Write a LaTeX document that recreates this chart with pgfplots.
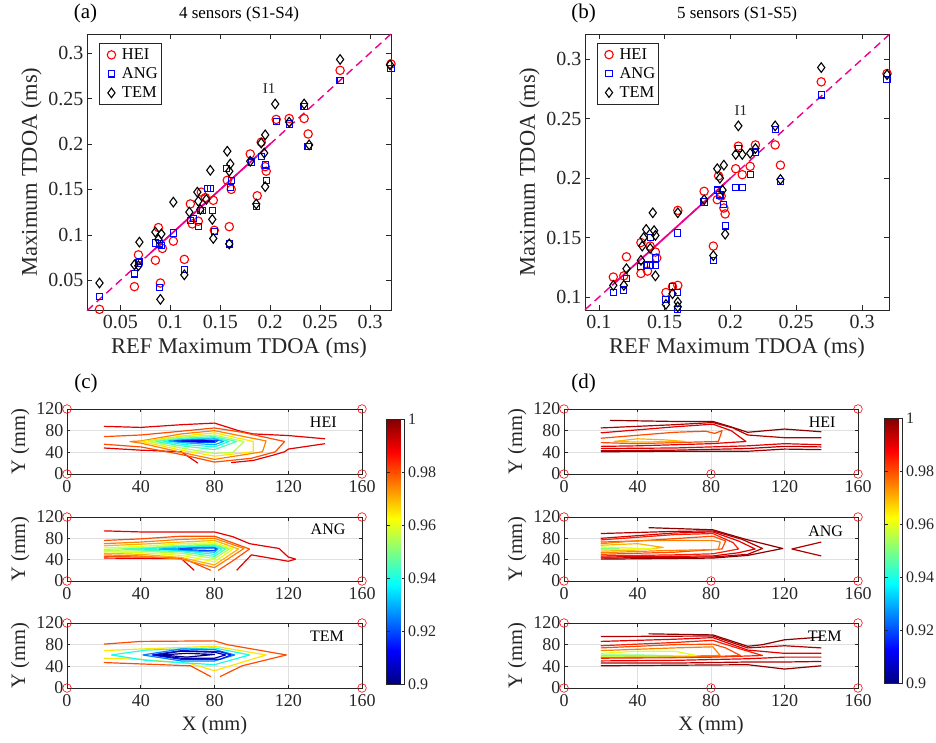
\documentclass[border=0pt]{standalone}
\usepackage{fontspec}
\setmainfont{Liberation Serif}
\usepackage{pgfplots}
\pgfplotsset{compat=1.18}
\newcommand\fs[1]{\fontsize{#1}{#1}\selectfont}
\definecolor{j100}{rgb}{0.55,0,0}
\definecolor{j995}{rgb}{0.7,0,0}
\definecolor{j99}{rgb}{0.9,0,0}
\definecolor{j985}{rgb}{1,0.12,0}
\definecolor{j98}{rgb}{1,0.3,0}
\definecolor{j975}{rgb}{1,0.5,0}
\definecolor{j97}{rgb}{1,0.7,0}
\definecolor{j965}{rgb}{1,0.9,0}
\definecolor{j96}{rgb}{0.9,1,0.1}
\definecolor{j955}{rgb}{0.7,1,0.3}
\definecolor{j95}{rgb}{0.5,1,0.5}
\definecolor{j945}{rgb}{0.3,1,0.7}
\definecolor{j94}{rgb}{0.1,1,0.9}
\definecolor{j93}{rgb}{0,0.7,1}
\definecolor{j925}{rgb}{0,0.5,1}
\definecolor{j92}{rgb}{0,0.3,1}
\definecolor{j915}{rgb}{0,0.1,1}
\definecolor{j91}{rgb}{0,0,0.9}
\definecolor{j905}{rgb}{0,0,0.7}
\definecolor{j90}{rgb}{0,0,0.5}
\definecolor{axc}{rgb}{0.15,0.15,0.15}
\pgfplotsset{
  scat/.style={scale only axis, width=304pt, height=276pt, anchor=south west,
    axis line style={draw=axc, line width=0.6pt}, tick style={draw=axc, line width=0.6pt},
    major tick length=5pt, tick align=inside,
    ticklabel style={font=\fs{20}, text=axc},
    xticklabel style={yshift=-2pt},
    label style={font=\fs{22.5}, text=axc},
    xlabel style={yshift=-2pt},
    title style={font=\fs{17}, yshift=2pt},
    /pgf/number format/assume math mode=true, /pgf/number format/fixed, /pgf/number format/precision=2,
    clip=false,
    legend style={font=\fs{16.5}, draw=axc, line width=0.6pt, inner sep=2pt, row sep=0pt,
      cells={anchor=west}, nodes={inner sep=1.5pt}},
    legend image code/.code={\path[draw=none,fill=none] (-10pt,-9.5pt) rectangle (9pt,9.5pt); \draw[##1] plot coordinates {(0pt,0pt)};},
  },
  hei/.style={only marks, mark=o, red, mark size=4.2pt, line width=1.1pt},
  ang/.style={only marks, mark=square, blue, mark size=3.1pt, line width=1.1pt},
  tem/.style={only marks, mark=diamond, black, mark size=4.8pt, line width=1.1pt},
  cont/.style={scale only axis, width=295pt, height=65pt, anchor=south west,
    xmin=0, xmax=160, ymin=0, ymax=120, xtick={0,40,80,120,160}, ytick={0,40,80,120},
    grid=major, grid style={black!12, line width=0.5pt},
    axis line style={draw=axc, line width=0.6pt}, tick style={draw=axc, line width=0.6pt},
    major tick length=3.5pt, tick align=inside,
    ticklabel style={font=\fs{18}, text=axc},
    xticklabel style={yshift=-3pt},
    label style={font=\fs{20.5}, text=axc},
    xlabel style={yshift=-3pt},
    ylabel={Y (mm)},
    /pgf/number format/assume math mode=true,
    clip=false},
  cl/.style={line width=1.2pt, line join=round},
  sens/.style={only marks, mark=o, red, mark size=4.3pt, line width=0.6pt},
  cbar/.style={colormap/jet, point meta min=0.9, point meta max=1, colorbar,
    colorbar style={at={(parent axis.north east)}, anchor=north west, xshift=#1,
      scale only axis, width=18pt, height=265pt,
      ytick={0.9,0.92,0.94,0.96,0.98,1},
      yticklabel style={font=\fs{16}, text=axc, /pgf/number format/fixed, /pgf/number format/precision=2, /pgf/number format/assume math mode=true},
      axis line style={draw=axc, line width=0.6pt}, tick style={draw=axc, line width=0.6pt}, major tick length=3pt}},
}
\begin{document}
\begin{tikzpicture}[x=1pt,y=1pt]
\useasboundingbox (0,0) rectangle (936,742);
% ---------------- (a)
\begin{axis}[scat, at={(87pt,432pt)}, xmin=0.0165, xmax=0.321, ymin=0.0173, ymax=0.321,
  xtick={0.05,0.1,0.15,0.2,0.25,0.3}, ytick={0.05,0.1,0.15,0.2,0.25,0.3},
  xlabel={REF Maximum TDOA (ms)}, ylabel={Maximum TDOA (ms)}, title={4 sensors (S1-S4)},
  legend style={at={(0.04,0.967)}, anchor=north west}]
\addplot[hei] coordinates {(0.029,0.018)(0.064,0.043)(0.068,0.078)(0.085,0.072)(0.088,0.108)(0.090,0.047)(0.092,0.085)(0.103,0.093)(0.114,0.073)(0.120,0.134)(0.122,0.112)(0.128,0.115)(0.131,0.147)(0.135,0.141)(0.143,0.138)(0.144,0.105)(0.157,0.160)(0.159,0.109)(0.161,0.150)(0.180,0.189)(0.187,0.143)(0.191,0.202)(0.195,0.175)(0.196,0.170)(0.206,0.227)(0.219,0.228)(0.234,0.228)(0.238,0.211)(0.270,0.281)(0.321,0.288)};
\addlegendentry{HEI}
\addplot[ang] coordinates {(0.029,0.032)(0.064,0.057)(0.068,0.069)(0.069,0.071)(0.085,0.091)(0.089,0.042)(0.089,0.090)(0.091,0.088)(0.103,0.102)(0.114,0.062)(0.120,0.116)(0.123,0.118)(0.128,0.109)(0.130,0.127)(0.132,0.127)(0.137,0.151)(0.140,0.151)(0.142,0.127)(0.144,0.104)(0.156,0.173)(0.160,0.152)(0.161,0.160)(0.159,0.090)(0.181,0.180)(0.186,0.131)(0.191,0.186)(0.195,0.177)(0.196,0.160)(0.206,0.225)(0.219,0.222)(0.234,0.241)(0.238,0.197)(0.270,0.270)(0.321,0.283)};
\addlegendentry{ANG}
\addplot[tem] coordinates {(0.029,0.047)(0.090,0.029)(0.064,0.067)(0.068,0.066)(0.069,0.092)(0.085,0.103)(0.088,0.095)(0.091,0.101)(0.103,0.136)(0.114,0.056)(0.119,0.125)(0.127,0.147)(0.128,0.137)(0.130,0.128)(0.136,0.139)(0.140,0.171)(0.142,0.117)(0.143,0.096)(0.157,0.192)(0.159,0.170)(0.160,0.178)(0.159,0.090)(0.180,0.181)(0.186,0.134)(0.191,0.201)(0.194,0.190)(0.195,0.210)(0.195,0.153)(0.205,0.244)(0.219,0.224)(0.234,0.244)(0.239,0.199)(0.270,0.293)(0.320,0.287)};
\addlegendentry{TEM}
\addplot[magenta, line width=1.4pt, dash pattern=on 8pt off 5pt, forget plot] coordinates {(0.0165,0.0165)(0.321,0.321)};
\addplot[magenta, line width=1.7pt, forget plot] coordinates {(0.08,0.08)(0.2,0.2)};
\node[font=\fs{15}, text=axc] at (axis cs:0.199,0.261) {I1};
\end{axis}
% ---------------- (b)
\begin{axis}[scat, at={(585pt,432pt)}, xmin=0.0895, xmax=0.3205, ymin=0.0893, ymax=0.3212,
  xtick={0.1,0.15,0.2,0.25,0.3}, ytick={0.1,0.15,0.2,0.25,0.3},
  xlabel={REF Maximum TDOA (ms)}, ylabel={Maximum TDOA (ms)}, title={5 sensors (S1-S5)},
  legend style={at={(0.0385,0.968)}, anchor=north west}]
\addplot[hei] coordinates {(0.111,0.117)(0.119,0.118)(0.121,0.134)(0.132,0.146)(0.132,0.120)(0.137,0.122)(0.139,0.143)(0.143,0.138)(0.144,0.133)(0.151,0.104)(0.156,0.109)(0.160,0.110)(0.160,0.173)(0.180,0.189)(0.187,0.143)(0.190,0.182)(0.191,0.202)(0.193,0.185)(0.195,0.175)(0.196,0.170)(0.204,0.208)(0.206,0.227)(0.209,0.203)(0.215,0.210)(0.219,0.228)(0.234,0.228)(0.238,0.211)(0.269,0.281)(0.319,0.288)};
\addlegendentry{HEI}
\addplot[ang] coordinates {(0.111,0.104)(0.119,0.106)(0.121,0.116)(0.132,0.126)(0.136,0.127)(0.139,0.150)(0.139,0.127)(0.143,0.133)(0.143,0.127)(0.151,0.098)(0.156,0.109)(0.160,0.104)(0.160,0.090)(0.160,0.154)(0.180,0.180)(0.187,0.131)(0.190,0.190)(0.192,0.186)(0.195,0.178)(0.196,0.160)(0.204,0.192)(0.209,0.192)(0.206,0.225)(0.215,0.203)(0.219,0.222)(0.234,0.241)(0.238,0.197)(0.269,0.270)(0.319,0.283)};
\addlegendentry{ANG}
\addplot[tem] coordinates {(0.111,0.110)(0.119,0.110)(0.121,0.124)(0.132,0.131)(0.133,0.143)(0.134,0.150)(0.136,0.157)(0.139,0.141)(0.141,0.171)(0.142,0.156)(0.143,0.152)(0.143,0.118)(0.151,0.094)(0.156,0.103)(0.160,0.096)(0.160,0.092)(0.160,0.171)(0.180,0.182)(0.187,0.135)(0.190,0.208)(0.192,0.200)(0.194,0.190)(0.195,0.211)(0.196,0.153)(0.204,0.220)(0.206,0.244)(0.209,0.220)(0.215,0.221)(0.219,0.225)(0.234,0.244)(0.238,0.199)(0.269,0.293)(0.319,0.287)};
\addlegendentry{TEM}
\addplot[magenta, line width=1.4pt, dash pattern=on 8pt off 5pt, forget plot] coordinates {(0.0895,0.0895)(0.3205,0.3205)};
\addplot[magenta, line width=1.7pt, forget plot] coordinates {(0.11,0.11)(0.2,0.2)};
\node[font=\fs{15}, text=axc] at (axis cs:0.208,0.257) {I1};
\end{axis}
% ---------------- (c) HEI
\begin{axis}[cont, at={(67pt,268pt)}, cbar=16pt, colorbar style={yshift=-10pt}]
\addplot[cl,j99] coordinates {(20,88)(40,86)(62,91)(80,94)(94,79)(101,74)(120,71)(140,65)};
\addplot[cl,j99] coordinates {(140,56)(120,46)(118,41)(112,35)(101,25)(89,21)};
\addplot[cl,j99] coordinates {(20,48)(40,44)(62,41)(71,20)};
\addplot[cl,j98] coordinates {(20,69)(40,72)(62,79)(80,85)(95,77)(118,60)(113,41)(100,29)(80,22)(62,36)(40,50)(20,55)};
\addplot[cl,j975] coordinates {(34,60)(40,61)(62,74)(80,80)(108,61)(106,41)(80,27)(62,40)(40,57)(34,60)};
\addplot[cl,j965] coordinates {(40,60)(62,70)(80,76)(101,60)(101,41)(80,33)(62,44)(40,60)};
\addplot[cl,j955] coordinates {(44,60)(62,68)(80,72)(96,60)(90,40)(80,38)(62,48)(44,60)};
\addplot[cl,j945] coordinates {(48,60)(62,66)(80,69)(92,60)(80,45)(62,52)(48,60)};
\addplot[cl,j94] coordinates {(52,60)(62,64)(80,67)(88,60)(80,50)(62,55)(52,60)};
\addplot[cl,j93] coordinates {(55,61)(62,63)(80,65)(85,60)(80,54)(62,58)(55,61)};
\addplot[cl,j92] coordinates {(58,61)(70,63)(82,62)(80,58)(68,59)(58,61)};
\addplot[cl,j91] coordinates {(62,61)(75,61.5)(80,60.5)(70,60)(62,61)};
\addplot[sens] coordinates {(0,0)(0,120)(160,0)(160,120)};
\node[font=\fs{16}, text=black] at (axis cs:139,96) {HEI};
\end{axis}
% ---------------- (c) ANG
\begin{axis}[cont, at={(67pt,161pt)}, height=64pt]
\addplot[cl,j99] coordinates {(20,94)(40,92)(80,92)(90,83)(99,70)(115,61)(120,45)(124,41)(120,37)(100,49)(92,20)};
\addplot[cl,j99] coordinates {(20,43)(62,42)(69,20)};
\addplot[cl,j98] coordinates {(20,76)(40,79)(62,84)(80,84)(99,60)(90,38)(82,20)};
\addplot[cl,j98] coordinates {(78,20)(70,32)(62,44)(40,45)(20,46)};
\addplot[cl,j975] coordinates {(20,70)(40,73)(62,78)(80,80)(96,61)(80,25)(62,41)(40,47)(20,49)};
\addplot[cl,j97] coordinates {(20,66)(40,69)(62,73)(80,76)(93,60)(80,30)(62,44)(40,50)(20,52)};
\addplot[cl,j96] coordinates {(20,62)(40,65)(62,70)(80,72)(90,60)(80,36)(62,48)(40,53)(20,55)};
\addplot[cl,j955] coordinates {(20,59)(40,62)(62,67)(80,69)(88,60)(80,42)(62,52)(40,56)(20,57)};
\addplot[cl,j945] coordinates {(30,60)(40,61)(62,65)(80,67)(86,60)(80,46)(62,55)(40,58)(30,60)};
\addplot[cl,j94] coordinates {(40,60)(62,64)(80,65)(84,60)(80,50)(62,57)(40,60)};
\addplot[cl,j93] coordinates {(50,60)(62,62)(80,63)(82,60)(80,54)(62,58)(50,60)};
\addplot[cl,j92] coordinates {(60,60)(70,62)(80,62)(81,60)(80,57)(70,58)(60,60)};
\addplot[sens] coordinates {(0,0)(0,120)(160,0)(160,120)};
\node[font=\fs{16}, text=black] at (axis cs:141.6,97) {ANG};
\end{axis}
% ---------------- (c) TEM
\begin{axis}[cont, at={(67pt,54pt)}, xlabel={X (mm)}]
\addplot[cl,j98] coordinates {(20,81)(40,86)(80,87)(87,80)(119,61)(95,41)(83,21)};
\addplot[cl,j98] coordinates {(20,47)(67,41)(78,21)};
\addplot[cl,j965] coordinates {(20,69)(40,72)(80,77)(108,61)(80,32)(67,45)(40,53)(20,55)};
\addplot[cl,j94] coordinates {(24,61)(43,70)(80,74)(99,61)(80,43)(43,51)(24,61)};
\addplot[cl,j925] coordinates {(41,61)(62,72)(80,71)(91,61)(80,50)(62,50)(41,61)};
\addplot[cl,j915] coordinates {(46,61)(62,69)(83,67)(89,61)(83,53)(62,53)(46,61)};
\addplot[cl,j905] coordinates {(48,61)(62,68)(80,66)(86,61)(80,55)(62,55)(48,61)};
\addplot[cl,j90] coordinates {(51,61)(65,64)(80,62)(65,57)(51,61)};
\addplot[sens] coordinates {(0,0)(0,120)(160,0)(160,120)};
\node[font=\fs{16}, text=black] at (axis cs:141,96) {TEM};
\end{axis}
% ---------------- (d) HEI
\begin{axis}[cont, at={(564pt,268pt)}, width=294pt, cbar=18pt, colorbar style={yshift=-9pt}]
\addplot[cl,j100] coordinates {(25,99)(60,97)(81,97)(90,88)(100,77)(120,83)(140,78)};
\addplot[cl,j995] coordinates {(20,85)(60,91)(81,95)(92,85)(100,72)(120,67)(140,67)};
\addplot[cl,j99] coordinates {(20,76)(60,87)(81,92)(91,80)(99,60)(80,56)(60,54)(40,52)(20,51)};
\addplot[cl,j98] coordinates {(20,66)(60,77)(77,79)(82,75)(86,80)(84,60)(60,58)(40,56)(20,58)};
\addplot[cl,j97] coordinates {(27,60)(40,65)(55,63)(66,60)(40,59)(27,60)};
\addplot[cl,j100] coordinates {(20,41)(60,42)(100,42)(120,46)(140,45)};
\addplot[cl,j995] coordinates {(20,43)(60,44)(100,47)(120,51)(140,50)};
\addplot[cl,j99] coordinates {(20,47)(60,48)(100,52)(120,56)(140,54)};
\addplot[sens] coordinates {(0,0)(0,120)(80,0)(160,0)(160,120)};
\node[font=\fs{16}, text=black] at (axis cs:140.5,96) {HEI};
\end{axis}
% ---------------- (d) ANG
\begin{axis}[cont, at={(564pt,161pt)}, width=294pt, height=64pt]
\addplot[cl,j100] coordinates {(46,100)(81,96)(99,78)(119,61)(100,48)(81,43)(20,41)};
\addplot[cl,j995] coordinates {(20,89)(60,93)(81,94)(97,78)(108,61)(100,50)(81,45)(20,43)};
\addplot[cl,j99] coordinates {(20,80)(60,90)(81,92)(95,75)(104,60)(95,53)(81,47)(20,45)};
\addplot[cl,j985] coordinates {(20,77)(60,87)(81,89)(92,72)(95,60)(81,51)(60,49)(20,47)};
\addplot[cl,j98] coordinates {(20,73)(40,75)(81,84)(88,75)(86,60)(60,54)(20,50)};
\addplot[cl,j975] coordinates {(20,70)(41,76)(81,76)(85,73)(84,59)(54,57)(20,53)};
\addplot[cl,j97] coordinates {(20,67)(40,70)(54,63)(40,58)(20,56)};
\addplot[cl,j96] coordinates {(20,64)(35,62)(50,60)(35,59)(20,59)};
\addplot[cl,j95] coordinates {(20,61.5)(30,60.5)(20,59.8)};
\addplot[cl,j995] coordinates {(140,73)(124,60)(140,47)};
\addplot[sens] coordinates {(0,0)(0,120)(80,0)(160,0)(160,120)};
\node[font=\fs{16}, text=black] at (axis cs:142.4,93) {ANG};
\end{axis}
% ---------------- (d) TEM
\begin{axis}[cont, at={(564pt,54pt)}, width=294pt, xlabel={X (mm)}]
\addplot[cl,j100] coordinates {(46,100)(81,98)(100,77)(108,80)(120,89)(140,94)};
\addplot[cl,j995] coordinates {(20,95)(81,96)(100,74)(120,78)(140,74)};
\addplot[cl,j99] coordinates {(20,86)(60,90)(81,93)(100,70)(120,64)(140,64)};
\addplot[cl,j100] coordinates {(20,41)(60,42)(100,43)(120,35)(140,41)};
\addplot[cl,j995] coordinates {(20,46)(60,46)(100,48)(120,48)(140,49)};
\addplot[cl,j99] coordinates {(20,50)(60,51)(100,54)(120,57)(140,57)};
\addplot[cl,j985] coordinates {(20,78)(60,84)(81,88)(96,72)(108,60)(81,57)(60,56)(20,55)};
\addplot[cl,j98] coordinates {(20,74)(60,80)(81,81)(88,74)(96,60)(81,58)(60,57)(20,56.5)};
\addplot[cl,j975] coordinates {(20,69)(60,74)(81,76)(85,60)(60,58.5)(20,57.5)};
\addplot[cl,j96] coordinates {(20,64)(40,68)(60,68)(72,60)(60,59.5)(20,58.5)};
\addplot[cl,j95] coordinates {(20,61)(40,61)(59,59.7)(20,59.5)};
\addplot[sens] coordinates {(0,0)(0,120)(80,0)(160,0)(160,120)};
\node[font=\fs{16}, text=black] at (axis cs:141.9,96) {TEM};
\end{axis}
% panel letters
\node[font=\fs{21}, text=black] at (85.5,729) {(a)};
\node[font=\fs{21}, text=black] at (583.5,729) {(b)};
\node[font=\fs{21}, text=black] at (86,359) {(c)};
\node[font=\fs{21}, text=black] at (583.5,359) {(d)};
\end{tikzpicture}
\end{document}
